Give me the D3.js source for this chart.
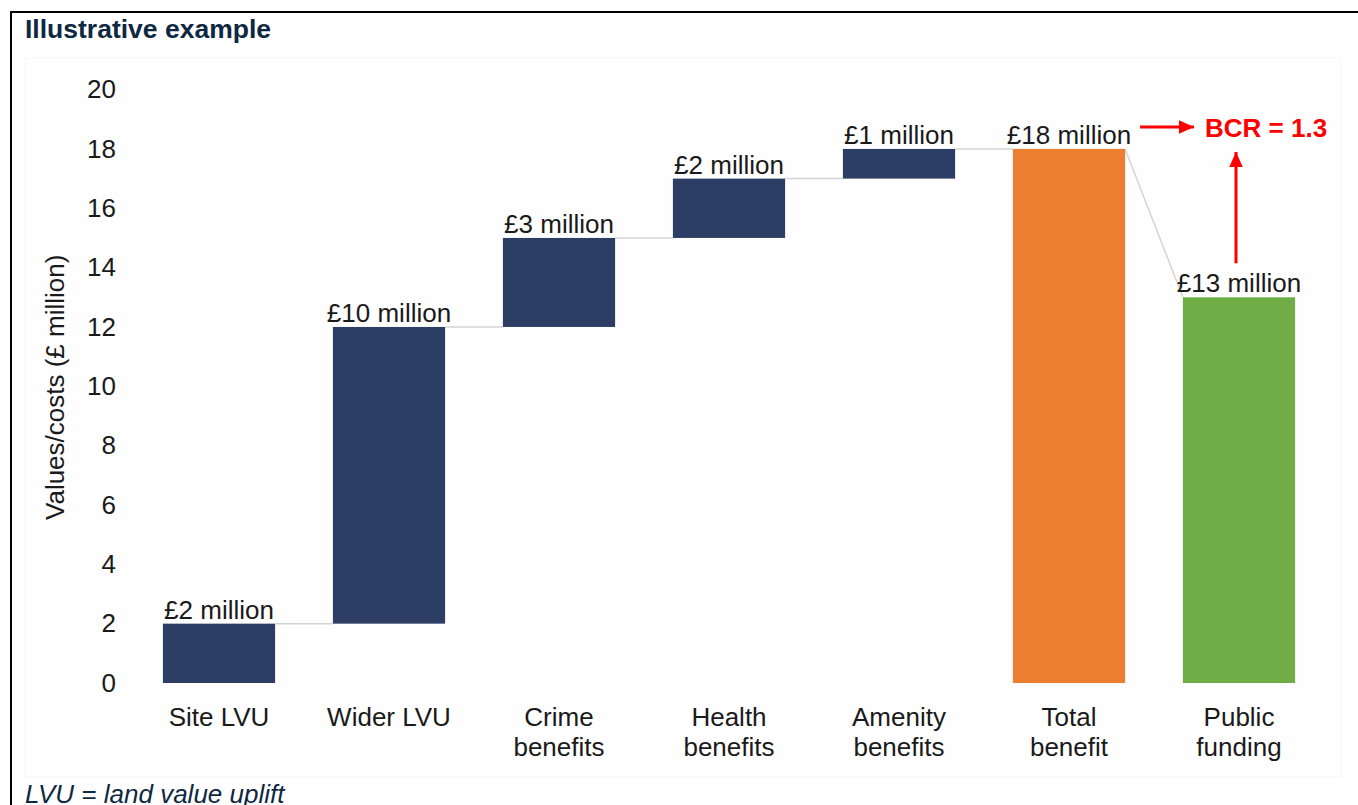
<!DOCTYPE html>
<html>
<head>
<meta charset="utf-8">
<script src="https://cdn.jsdelivr.net/npm/d3@7"></script>
<style>
  html, body { margin: 0; padding: 0; background: #fff; }
  svg { display: block; font-family: "Liberation Sans", Arial, sans-serif; }
</style>
</head>
<body>
<svg id="chart" width="1358" height="805"></svg>
<script>
// Waterfall of benefits building up to the total, compared with public funding
const categories = [["Site LVU"], ["Wider LVU"], ["Crime", "benefits"], ["Health", "benefits"],
                    ["Amenity", "benefits"], ["Total", "benefit"], ["Public", "funding"]];
const increments = [2, 10, 3, 2, 1, 18, 13];
const barTypes = ["step", "step", "step", "step", "step", "total", "cost"];
const valueLabels = ["£2 million", "£10 million", "£3 million", "£2 million", "£1 million", "£18 million", "£13 million"];
const yTicks = [0, 2, 4, 6, 8, 10, 12, 14, 16, 18, 20];
const bcrLabel = "BCR = 1.3";

const colors = { step: "#2c3e64", total: "#ed7d31", cost: "#70ad47" };
const FS = 26;

// Cumulative start/end for each bar
let running = 0;
const bars = increments.map((v, i) => {
  let y0, y1;
  if (barTypes[i] === "step") { y0 = running; y1 = running + v; running = y1; }
  else { y0 = 0; y1 = v; }
  return { i, key: categories[i].join(" "), lines: categories[i], y0, y1, type: barTypes[i], label: valueLabels[i] };
});

const svg = d3.select("#chart");

// Outer frame
svg.append("rect").attr("x", 11).attr("y", 12).attr("width", 1360).attr("height", 820)
  .attr("fill", "none").attr("stroke", "#000").attr("stroke-width", 2);

// Faint plot panel
svg.append("rect").attr("x", 25).attr("y", 58).attr("width", 1316).attr("height", 719)
  .attr("fill", "#fefefe").attr("stroke", "#f6f6f6").attr("stroke-width", 1);

svg.append("text").attr("x", 25).attr("y", 38)
  .attr("font-size", 26).attr("font-weight", "bold").attr("fill", "#0e2841")
  .attr("textLength", 246).attr("lengthAdjust", "spacingAndGlyphs")
  .text("Illustrative example");

svg.append("text").attr("x", 25).attr("y", 803)
  .attr("font-size", 26).attr("font-style", "italic").attr("fill", "#0e2841")
  .text("LVU = land value uplift");

const x = d3.scaleBand().domain(bars.map(d => d.key)).range([134, 1324]).paddingInner(0.34).paddingOuter(0.17);
const y = d3.scaleLinear().domain([0, 20]).range([683, 89.6]);

// Y axis: labels only
const yAxis = d3.axisLeft(y).tickValues(yTicks).tickSize(0).tickPadding(0);
const gy = svg.append("g").attr("transform", "translate(116,0)").call(yAxis);
gy.select(".domain").remove();
gy.selectAll("text").attr("font-size", FS).attr("fill", "#1a1a1a")
  .attr("font-family", "Liberation Sans, Arial, sans-serif");

svg.append("text")
  .attr("transform", `translate(64,${(y(0) + y(20)) / 2 + 1}) rotate(-90)`)
  .attr("text-anchor", "middle").attr("font-size", FS).attr("fill", "#1a1a1a")
  .text("Values/costs (£ million)");

// Connectors: from each bar top to the matching level on the next bar
const connectors = bars.slice(0, -1).map((d, k) => {
  const n = bars[k + 1];
  const target = n.type === "step" ? n.y0 : n.y1;
  return { x1: x(d.key) + x.bandwidth(), y1: y(d.y1), x2: x(n.key), y2: y(target) };
});
svg.append("g").selectAll("line").data(connectors).join("line")
  .attr("x1", d => d.x1).attr("y1", d => d.y1).attr("x2", d => d.x2).attr("y2", d => d.y2)
  .attr("stroke", "#d4d4d4").attr("stroke-width", 1.5);

// Bars
svg.append("g").selectAll("rect").data(bars).join("rect")
  .attr("x", d => x(d.key)).attr("width", x.bandwidth())
  .attr("y", d => y(d.y1)).attr("height", d => y(d.y0) - y(d.y1))
  .attr("fill", d => colors[d.type]);

// Value labels
svg.append("g").selectAll("text").data(bars).join("text")
  .attr("x", d => x(d.key) + x.bandwidth() / 2).attr("y", d => y(d.y1) - 5)
  .attr("text-anchor", "middle").attr("font-size", FS).attr("fill", "#1a1a1a")
  .text(d => d.label);

// Category labels
const cat = svg.append("g").selectAll("text").data(bars).join("text")
  .attr("text-anchor", "middle").attr("font-size", FS).attr("fill", "#1a1a1a");
cat.each(function (d) {
  const t = d3.select(this);
  d.lines.forEach((ln, j) => {
    t.append("tspan").attr("x", x(d.key) + x.bandwidth() / 2).attr("y", 726 + j * 30).text(ln);
  });
});

// BCR annotation with arrows
const defs = svg.append("defs");
defs.append("marker").attr("id", "head").attr("viewBox", "0 0 10 10")
  .attr("refX", 10).attr("refY", 5).attr("markerWidth", 5).attr("markerHeight", 4.5)
  .attr("markerUnits", "strokeWidth").attr("orient", "auto")
  .attr("preserveAspectRatio", "none")
  .append("path").attr("d", "M0,0 L10,5 L0,10 Z").attr("fill", "#ff0000");

const total = bars[5], cost = bars[6];
const arrowY = y(total.y1) - 22;
svg.append("line")
  .attr("x1", x(total.key) + x.bandwidth() + 15).attr("y1", arrowY)
  .attr("x2", 1194).attr("y2", arrowY)
  .attr("stroke", "#ff0000").attr("stroke-width", 3).attr("marker-end", "url(#head)");
svg.append("text").attr("x", 1205).attr("y", arrowY + 10)
  .attr("font-size", FS).attr("font-weight", "bold").attr("fill", "#ff0000")
  .text(bcrLabel);
const vx = 1236;
svg.append("line")
  .attr("x1", vx).attr("y1", y(cost.y1) - 34)
  .attr("x2", vx).attr("y2", arrowY + 25)
  .attr("stroke", "#ff0000").attr("stroke-width", 3).attr("marker-end", "url(#head)");
</script>
</body>
</html>
